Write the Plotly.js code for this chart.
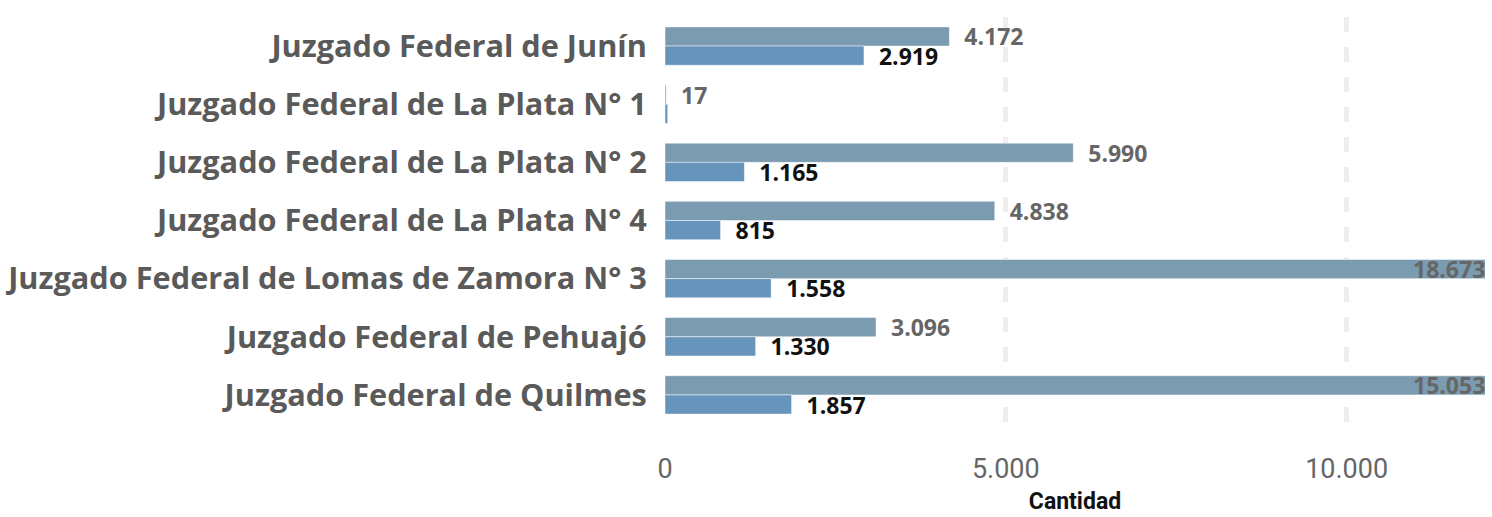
<!DOCTYPE html>
<html><head><meta charset="utf-8">
<script src="https://cdn.plot.ly/plotly-3.0.1.min.js"></script>
<style>html,body{margin:0;padding:0;background:#fff}#chart{width:1492px;height:517px}</style>
</head><body><div id="chart"></div>
<script>
const categories = [
  "Juzgado Federal de Junín",
  "Juzgado Federal de La Plata N° 1",
  "Juzgado Federal de La Plata N° 2",
  "Juzgado Federal de La Plata N° 4",
  "Juzgado Federal de Lomas de Zamora N° 3",
  "Juzgado Federal de Pehuajó",
  "Juzgado Federal de Quilmes"
];
const seriesA = [4172, 17, 5990, 4838, 18673, 3096, 15053];
const seriesB = [2919, 40, 1165, 815, 1558, 1330, 1857];
const showLabelB = [true, false, true, true, true, true, true];
const xMax = 12030;
const tickVals = [0, 5000, 10000];
const tickText = ["0", "5.000", "10.000"];

const fmt = v => v.toLocaleString('de-DE');
const NB = '\u00a0\u00a0';
const labelFont = 23;

const textA = seriesA.map(v => v > xMax ? '' : NB + fmt(v));
const textB = seriesB.map((v, i) => showLabelB[i] ? NB + fmt(v) : '');

const traceA = {
  type: 'bar', orientation: 'h', y: categories, x: seriesA,
  name: 'A', marker: {color: '#7a9bb0', line: {color: '#ffffff', width: 0.5}},
  text: textA, textposition: 'outside',
  texttemplate: '%{text}', hoverinfo: 'none',
  outsidetextfont: {family: 'Open Sans', size: labelFont, color: '#666666', weight: 'bold'},
  cliponaxis: true, constraintext: 'none'
};
const traceB = {
  type: 'bar', orientation: 'h', y: categories, x: seriesB,
  name: 'B', marker: {color: '#6694bb', line: {color: '#ffffff', width: 0.5}},
  text: textB, textposition: 'outside', texttemplate: '%{text}', hoverinfo: 'none',
  outsidetextfont: {family: 'Open Sans', size: labelFont, color: '#111111', weight: 'bold'},
  cliponaxis: false, constraintext: 'none'
};

// labels for bars that run past the visible range, placed at the right edge
const annotations = [];
seriesA.forEach((v, i) => {
  if (v > xMax) {
    annotations.push({
      x: xMax, y: categories[i], xref: 'x', yref: 'y',
      text: fmt(v), showarrow: false, xanchor: 'right', yanchor: 'middle',
      yshift: 9.5, xshift: 2,
      font: {family: 'Open Sans', size: labelFont, color: '#666666', weight: 'bold'}
    });
  }
});

const layout = {
  width: 1492, height: 517,
  margin: {l: 665, r: 7, t: 17, b: 93, pad: 0},
  paper_bgcolor: '#ffffff', plot_bgcolor: '#ffffff',
  separators: ',.',
  barmode: 'group', bargap: 0.34, bargroupgap: 0,
  showlegend: false,
  font: {family: 'Open Sans', color: '#666666'},
  annotations: annotations,
  xaxis: {
    range: [0, xMax], tickvals: tickVals, ticktext: tickText,
    showgrid: true, gridcolor: '#efeded', gridwidth: 5, griddash: 'dash',
    zeroline: false, showline: false,
    ticks: 'outside', ticklen: 21, tickcolor: 'rgba(0,0,0,0)',
    tickfont: {family: 'Roboto', size: 27, color: '#666666'},
    title: {text: 'Cantidad', font: {family: 'Roboto', size: 23, color: '#111111', weight: 'bold'}, standoff: 8}
  },
  yaxis: {
    autorange: 'reversed', showgrid: false, zeroline: false, showline: false,
    ticks: 'outside', ticklen: 11, tickcolor: 'rgba(0,0,0,0)',
    tickfont: {family: 'Open Sans', size: 30.7, color: '#5a5a5a', weight: 'bold'}
  }
};
Plotly.newPlot('chart', [traceA, traceB], layout, {displayModeBar: false, staticPlot: true});
</script></body></html>
